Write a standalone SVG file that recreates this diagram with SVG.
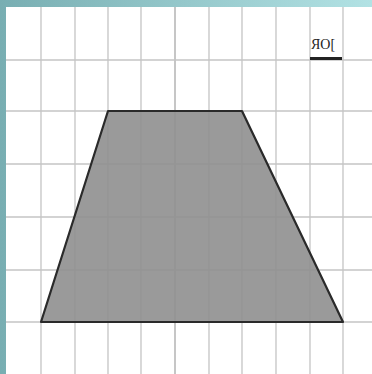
<svg xmlns="http://www.w3.org/2000/svg" width="372" height="374" viewBox="0 0 372 374">
<defs>
<linearGradient id="bg" x1="0" y1="0" x2="1" y2="0">
<stop offset="0" stop-color="#78aeb2"/>
<stop offset="1" stop-color="#b2e2e4"/>
</linearGradient>
<style>
.g{stroke:#c4c4c4;stroke-width:1.3}
.gd{stroke:#a8a8a8;stroke-width:1.3}
</style>
</defs>
<rect width="372" height="374" fill="url(#bg)"/>
<rect x="6" y="7" width="366" height="367" fill="#ffffff"/>
<g id="grid">
<line class="g" x1="41" y1="7" x2="41" y2="374"/>
<line class="g" x1="75" y1="7" x2="75" y2="374"/>
<line class="g" x1="108" y1="7" x2="108" y2="374"/>
<line class="g" x1="141" y1="7" x2="141" y2="374"/>
<line class="gd" x1="175" y1="7" x2="175" y2="374"/>
<line class="g" x1="209" y1="7" x2="209" y2="374"/>
<line class="g" x1="242" y1="7" x2="242" y2="374"/>
<line class="g" x1="276" y1="7" x2="276" y2="374"/>
<line class="g" x1="310" y1="7" x2="310" y2="374"/>
<line class="g" x1="343" y1="7" x2="343" y2="374"/>
<line class="g" x1="6" y1="60" x2="372" y2="60"/>
<line class="g" x1="6" y1="111" x2="372" y2="111"/>
<line class="g" x1="6" y1="164" x2="372" y2="164"/>
<line class="g" x1="6" y1="217" x2="372" y2="217"/>
<line class="g" x1="6" y1="270" x2="372" y2="270"/>
<line class="g" x1="6" y1="322" x2="372" y2="322"/>
</g>
<g id="trapezoid">
<polygon points="108,111 242,111 343,322 41,322" fill="#8f8f8f" fill-opacity="0.9" stroke="#2a2a2a" stroke-width="2.2" stroke-linejoin="round"/>
</g>
<g id="scale">
<text x="311" y="49" font-family="Liberation Serif, serif" font-size="14" fill="#222">ЯО[</text>
<rect x="310" y="57" width="32" height="3" fill="#222"/>
</g>
</svg>
